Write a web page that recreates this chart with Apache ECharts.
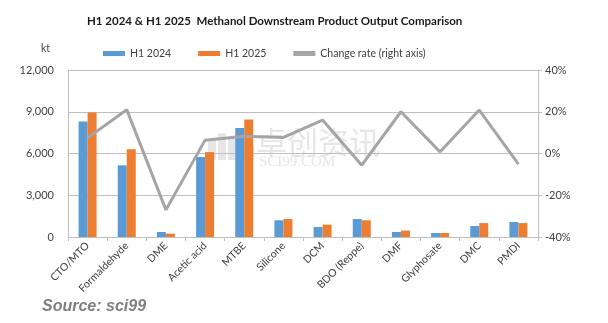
<!DOCTYPE html>
<html>
<head>
<meta charset="utf-8">
<script src="https://cdn.jsdelivr.net/npm/echarts@6/dist/echarts.min.js"></script>
<style>
  html, body { margin: 0; padding: 0; background: #fff; }
  #chart { width: 608px; height: 323px; }
</style>
</head>
<body>
<div id="chart"></div>
<script>
// Methanol downstream products, output in kt
const categories = ['CTO/MTO', 'Formaldehyde', 'DME', 'Acetic acid', 'MTBE', 'Silicone', 'DCM', 'BDO (Reppe)', 'DMF', 'Glyphosate', 'DMC', 'PMDI'];
const output2024 = [8300, 5150, 360, 5750, 7830, 1200, 720, 1290, 360, 290, 790, 1080];
const output2025 = [8950, 6300, 240, 6100, 8450, 1290, 890, 1200, 460, 290, 1000, 1000];
// Year-on-year change, percent (right axis)
const changeRate = [7.5, 21, -27, 6.4, 8.3, 7.7, 16, -5.6, 20, 0.8, 20.8, -5.1];
const leftTicks = [0, 3000, 6000, 9000, 12000];
const rightTicks = [-40, -20, 0, 20, 40];

const FONT = 'Lato';
const chart = echarts.init(document.getElementById('chart'));

// small block logo of the watermark
const logoBlocks = [];
[[208, 140, 8, 20], [218, 133, 8, 27], [228, 137, 8, 23], [238, 141, 8, 19], [246, 146, 8, 14]].forEach(b => {
  logoBlocks.push({ type: 'rect', left: b[0], top: b[1], z: -1, shape: { width: b[2], height: b[3] }, style: { fill: '#E6E6E6' } });
});

chart.setOption({
  animation: false,
  textStyle: { fontFamily: FONT },
  title: {
    text: 'H1 2024 & H1 2025  Methanol Downstream Product Output Comparison',
    left: 82,
    top: 10,
    textStyle: { fontSize: 11.5, fontWeight: 'bold', color: '#1a1a1a', fontFamily: FONT }
  },
  legend: {
    left: 98,
    top: 43,
    itemWidth: 22,
    itemHeight: 5,
    itemGap: 27,
    textStyle: { fontSize: 10.5, color: '#404040', fontFamily: FONT },
    data: [
      { name: 'H1 2024', icon: 'rect' },
      { name: 'H1 2025', icon: 'rect' },
      { name: 'Change rate (right axis)', icon: 'rect' }
    ]
  },
  grid: { left: 68, right: 70, top: 70, bottom: 86 },
  xAxis: {
    type: 'category',
    data: categories,
    axisLine: { lineStyle: { color: '#BFBFBF' } },
    axisTick: { show: true, length: 4, lineStyle: { color: '#BFBFBF' } },
    axisLabel: { rotate: 45, fontSize: 10.5, color: '#404040', margin: 7, interval: 0, fontFamily: FONT }
  },
  yAxis: [
    {
      type: 'value',
      min: leftTicks[0],
      max: leftTicks[leftTicks.length - 1],
      interval: 3000,
      position: 'left',
      axisLine: { show: true, lineStyle: { color: '#BFBFBF' } },
      axisTick: { show: false },
      splitLine: { lineStyle: { color: '#BFBFBF' } },
      axisLabel: {
        fontSize: 11, color: '#404040', margin: 14, fontFamily: FONT,
        formatter: v => v.toLocaleString('en-US')
      },
      name: 'kt',
      nameLocation: 'end',
      nameGap: 16,
      nameTextStyle: { fontSize: 10.5, color: '#404040', align: 'right', padding: [0, 18, 0, 0] }
    },
    {
      type: 'value',
      min: rightTicks[0],
      max: rightTicks[rightTicks.length - 1],
      interval: 20,
      position: 'right',
      axisLine: { show: true, lineStyle: { color: '#BFBFBF' } },
      axisTick: { show: true, length: 4, lineStyle: { color: '#BFBFBF' } },
      splitLine: { show: false },
      axisLabel: { fontSize: 11, color: '#404040', margin: 7, fontFamily: FONT, formatter: '{value}%' }
    }
  ],
  series: [
    {
      name: 'H1 2024',
      type: 'bar',
      data: output2024,
      barWidth: 9,
      barGap: '0%',
      itemStyle: { color: '#5B9BD5' }
    },
    {
      name: 'H1 2025',
      type: 'bar',
      data: output2025,
      barWidth: 9,
      itemStyle: { color: '#ED7D31' }
    },
    {
      name: 'Change rate (right axis)',
      type: 'line',
      yAxisIndex: 1,
      data: changeRate,
      symbol: 'none',
      z: 5,
      itemStyle: { color: '#A5A5A5' },
      lineStyle: { color: '#A5A5A5', width: 3 }
    }
  ],
  graphic: logoBlocks.concat([
    // sci99 watermark behind the plot
    { type: 'text', left: 256, top: 127, z: -1, style: { text: '卓创资讯', fontSize: 31, fill: '#E6E6E6', fontFamily: 'Noto Sans CJK SC' } },
    { type: 'text', left: 259, top: 155, z: -1, style: { text: 'SCI99.COM', fontSize: 15, fill: '#E6E6E6', fontFamily: 'Liberation Serif', letterSpacing: 3.5 } },
    // source note
    { type: 'text', left: 42, top: 299, style: { text: 'Source: sci99', fontSize: 16, fontWeight: 'bold', fontStyle: 'italic', fill: '#7F7F7F', fontFamily: 'Liberation Sans' } }
  ])
});
</script>
</body>
</html>
